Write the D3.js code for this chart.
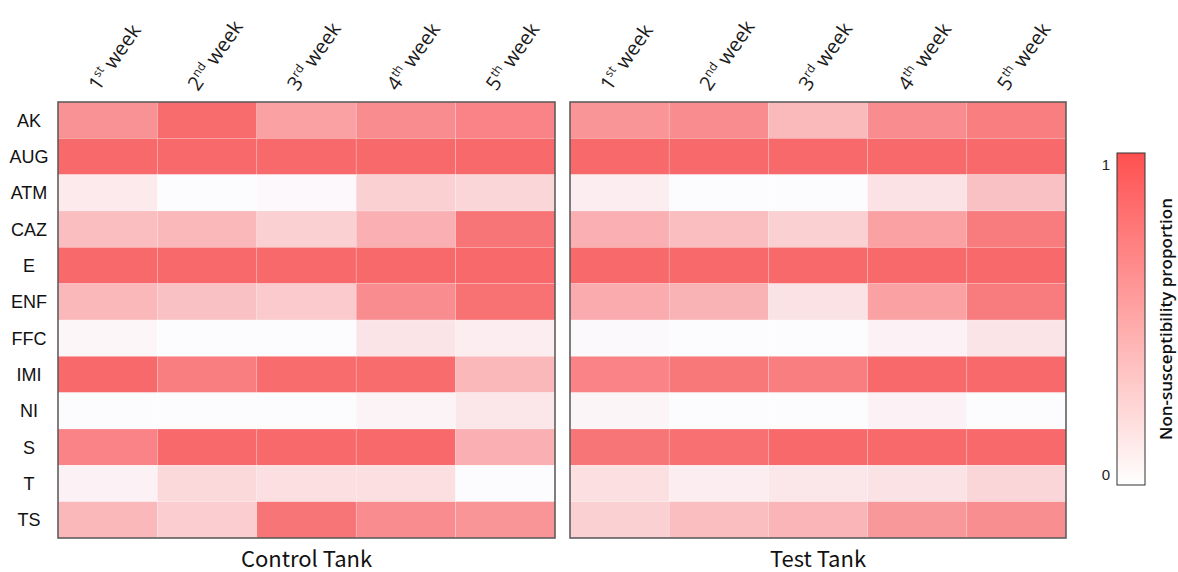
<!DOCTYPE html>
<html>
<head>
<meta charset="utf-8">
<script src="https://cdn.jsdelivr.net/npm/d3@7"></script>
<style>
  html, body { margin: 0; padding: 0; background: #fff; }
  svg { display: block; }
</style>
</head>
<body>
<svg id="chart" width="1178" height="572"></svg>
<script>
// ---- data ----
const antibiotics = ["AK","AUG","ATM","CAZ","E","ENF","FFC","IMI","NI","S","T","TS"];
const weekNums = ["1","2","3","4","5"];
const weekSups = ["st","nd","rd","th","th"];
const panelTitles = ["Control Tank","Test Tank"];
const legendTicks = [0, 1];
const legendTitle = "Non-susceptibility proportion";

// rows = antibiotics, columns = weeks 1..5
const controlValues = [
  [0.72, 0.98, 0.62, 0.76, 0.82],
  [1.00, 1.00, 1.00, 1.00, 1.00],
  [0.12, 0.00, 0.03, 0.30, 0.26],
  [0.42, 0.46, 0.30, 0.52, 0.92],
  [1.00, 1.00, 1.00, 1.00, 1.00],
  [0.46, 0.40, 0.34, 0.76, 0.94],
  [0.04, 0.00, 0.00, 0.16, 0.10],
  [1.00, 0.86, 0.98, 0.98, 0.46],
  [0.00, 0.00, 0.00, 0.06, 0.15],
  [0.82, 1.00, 1.00, 1.00, 0.52],
  [0.07, 0.24, 0.20, 0.20, 0.00],
  [0.46, 0.32, 0.92, 0.76, 0.70]
];
const testValues = [
  [0.70, 0.76, 0.45, 0.76, 0.86],
  [1.00, 1.00, 1.00, 1.00, 1.00],
  [0.10, 0.00, 0.00, 0.18, 0.40],
  [0.52, 0.42, 0.30, 0.62, 0.88],
  [1.00, 1.00, 1.00, 1.00, 1.00],
  [0.55, 0.50, 0.18, 0.62, 0.88],
  [0.02, 0.00, 0.00, 0.07, 0.16],
  [0.82, 0.90, 0.86, 1.00, 1.00],
  [0.05, 0.00, 0.00, 0.07, 0.00],
  [0.92, 0.95, 1.00, 1.00, 1.00],
  [0.20, 0.10, 0.15, 0.18, 0.26],
  [0.30, 0.42, 0.48, 0.68, 0.75]
];

// ---- layout ----
const svg = d3.select("#chart");
const gridTop = 102, gridBottom = 538;
const panels = [
  { x0: 58, x1: 555, values: controlValues, title: panelTitles[0] },
  { x0: 570, x1: 1066, values: testValues, title: panelTitles[1] }
];
const color = d3.scaleLinear().domain([0, 1]).range(["#FCFCFF", "#F8696B"]).interpolate(d3.interpolateRgb);
const y = d3.scaleBand().domain(antibiotics).range([gridTop, gridBottom]).padding(0);
const labelFont = "'Liberation Sans', Arial, sans-serif";
const titleFont = "'Noto Sans CJK JP', 'Noto Sans', sans-serif";
const headFont = "'Open Sans', 'Noto Sans', sans-serif";

panels.forEach((p, pi) => {
  const x = d3.scaleBand().domain(weekNums).range([p.x0, p.x1]).padding(0);
  const g = svg.append("g");
  p.values.forEach((row, ri) => {
    row.forEach((v, ci) => {
      g.append("rect")
        .attr("x", x(weekNums[ci]))
        .attr("y", y(antibiotics[ri]))
        .attr("width", x.bandwidth())
        .attr("height", y.bandwidth())
        .attr("fill", color(v))
        .attr("stroke", "#ffffff")
        .attr("stroke-opacity", 0.3)
        .attr("stroke-width", 0.6);
    });
  });
  g.append("rect")
    .attr("x", p.x0).attr("y", gridTop)
    .attr("width", p.x1 - p.x0).attr("height", gridBottom - gridTop)
    .attr("fill", "none").attr("stroke", "#555").attr("stroke-width", 1.5);

  // column headers
  weekNums.forEach((w, ci) => {
    const cx = x(w) + x.bandwidth() / 2;
    const t = svg.append("text")
      .attr("transform", `translate(${cx - 9},${92}) rotate(-55)`)
      .attr("font-family", headFont)
      .attr("font-size", 20)
      .attr("fill", "#1a1a1a");
    t.append("tspan").text(w);
    t.append("tspan").attr("font-size", 12).attr("dy", -8).text(weekSups[ci]);
    t.append("tspan").attr("dy", 8).text(" week");
  });

  // panel title
  svg.append("text")
    .attr("x", (p.x0 + p.x1) / 2)
    .attr("y", 567)
    .attr("text-anchor", "middle")
    .attr("font-family", titleFont)
    .attr("font-size", 22)
    .attr("font-weight", 400)
    .attr("fill", "#111")
    .text(p.title);
});

// row labels
antibiotics.forEach(a => {
  svg.append("text")
    .attr("x", 29)
    .attr("y", y(a) + y.bandwidth() / 2)
    .attr("dy", "0.36em")
    .attr("text-anchor", "middle")
    .attr("font-family", labelFont)
    .attr("font-size", 18)
    .attr("fill", "#111")
    .text(a);
});

// legend
const defs = svg.append("defs");
const grad = defs.append("linearGradient").attr("id", "lg")
  .attr("x1", 0).attr("y1", 1).attr("x2", 0).attr("y2", 0);
grad.append("stop").attr("offset", "0%").attr("stop-color", "#FFFFFF");
grad.append("stop").attr("offset", "100%").attr("stop-color", "#FF5050");
const lx = 1117, lw = 28, ly0 = 153, ly1 = 485;
const ly = d3.scaleLinear().domain([0, 1]).range([ly1 - 10, ly0 + 12]);
svg.append("rect").attr("x", lx).attr("y", ly0).attr("width", lw).attr("height", ly1 - ly0)
  .attr("fill", "url(#lg)").attr("stroke", "#333").attr("stroke-width", 1);
legendTicks.forEach(t => {
  svg.append("text")
    .attr("x", 1106).attr("y", ly(t)).attr("dy", "0.36em")
    .attr("text-anchor", "middle")
    .attr("font-family", labelFont).attr("font-size", 15).attr("fill", "#222")
    .text(t);
});
svg.append("text")
  .attr("transform", `translate(1172,${(ly0 + ly1) / 2}) rotate(-90)`)
  .attr("text-anchor", "middle")
  .attr("font-family", headFont)
  .attr("font-size", 17)
  .attr("font-weight", 600)
  .attr("fill", "#111")
  .text(legendTitle);
</script>
</body>
</html>
